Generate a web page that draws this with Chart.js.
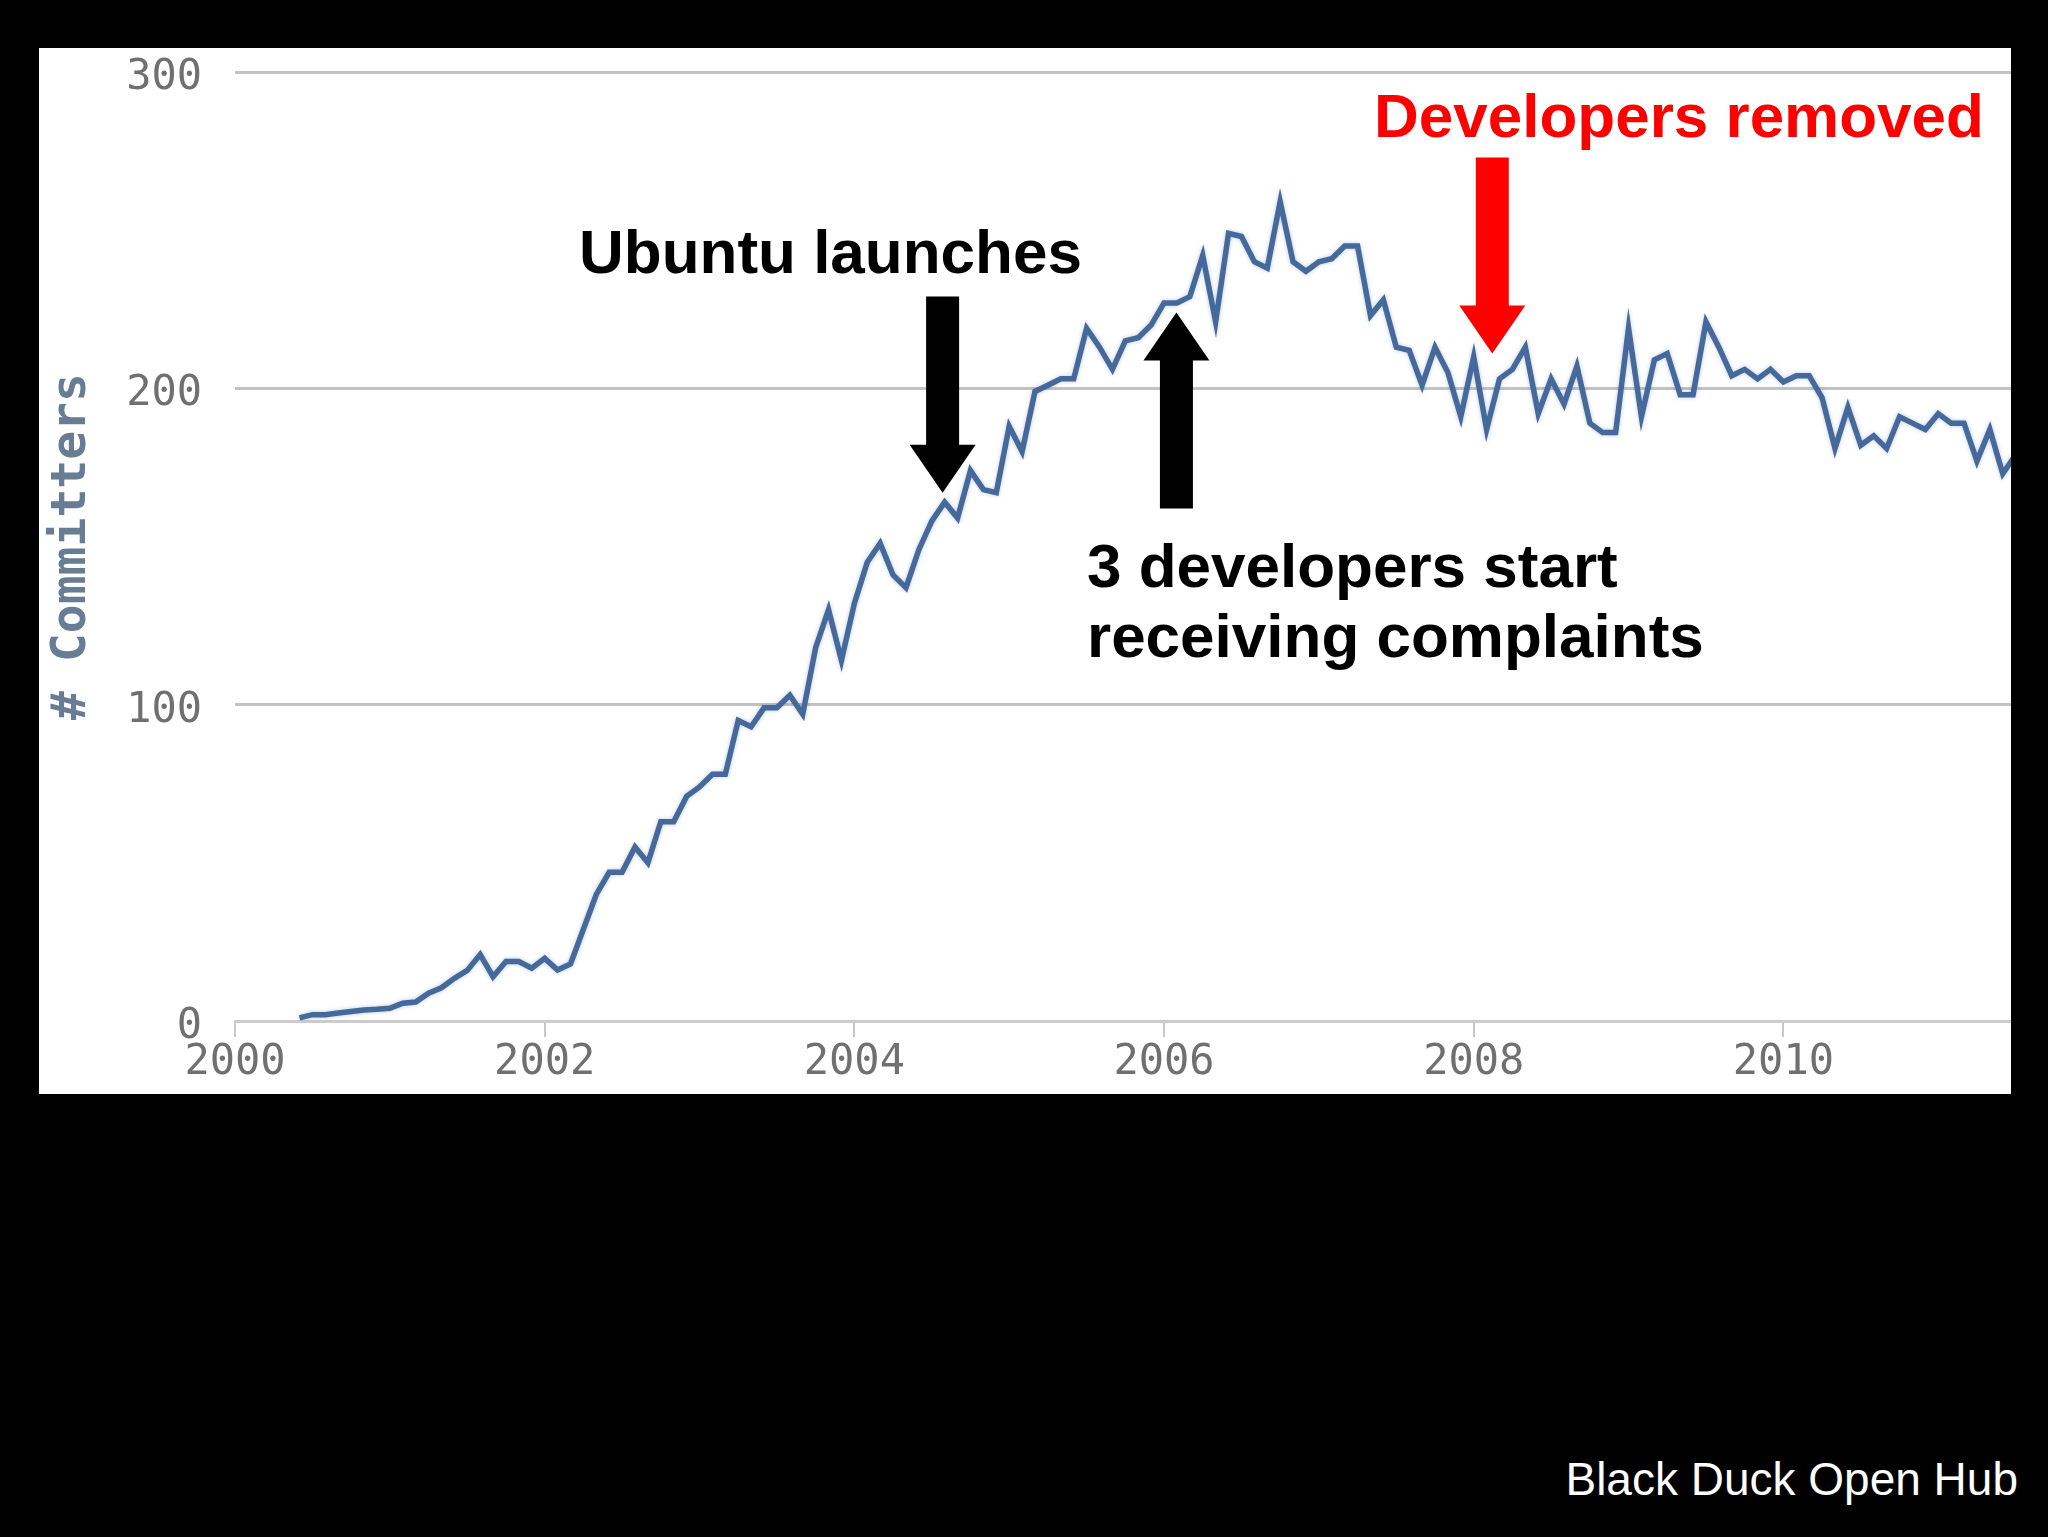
<!DOCTYPE html>
<html>
<head>
<meta charset="utf-8">
<title># Committers</title>
<script src="https://cdn.jsdelivr.net/npm/chart.js@4.4.1/dist/chart.umd.min.js"></script>
<style>
  html, body {
    margin: 0;
    padding: 0;
    background: #000;
  }

  body {
    width: 2048px;
    height: 1537px;
    position: relative;
    overflow: hidden;
    font-family: "Liberation Sans", Arial, sans-serif;
  }

  #panel {
    position: absolute;
    left: 39px;
    top: 48px;
    width: 1972px;
    height: 1046px;
    background: #fff;
  }

  #chart {
    display: block;
  }

  .note {
    position: absolute;
    font-weight: bold;
    font-size: 62px;
    line-height: 62px;
    white-space: nowrap;
    color: #000;
  }

  #source {
    position: absolute;
    right: 30px;
    top: 1456px;
    font-size: 46px;
    line-height: 46px;
    color: #fff;
    white-space: nowrap;
  }
</style>
</head>
<body>

<div id="panel">
  <canvas id="chart" width="1972" height="1046"></canvas>
</div>

<div class="note" style="left:579px; top:221px;">Ubuntu launches</div>
<div class="note" style="left:1087px; top:531px; line-height:70px;">3 developers start<br>receiving complaints</div>
<div class="note" style="left:1374px; top:85px; color:#ff0000;">Developers removed</div>
<div id="source">Black Duck Open Hub</div>

<script>

// monthly committer counts, first month = June 2000
const startYear = 2000;
const startMonth = 6;

const committers = [
  1, 2, 2, 2.5, 3, 3.5, 3.7, 4, 5.6, 6,
  8.8, 10.5, 13.5, 16, 21, 14, 18.8, 18.8, 16.7, 19.8,
  16.1, 18, 29, 40, 47, 47, 55, 50, 63, 63,
  71, 74, 78, 78, 95, 93, 99, 99, 103, 97,
  118, 130, 114, 132, 145, 151, 141, 137, 149, 158,
  164, 159, 174, 168, 167, 188, 180, 199, 201, 203,
  203, 219, 213, 206, 215, 216, 220, 227, 227, 229,
  242, 221, 249, 248, 240, 238, 259, 240, 237, 240,
  241, 245, 245, 223, 228, 213, 212, 201, 213, 205,
  191, 210, 187, 203, 206, 213, 192, 203, 195, 207,
  189, 186, 186, 219, 191, 209, 211, 198, 198, 221,
  213, 204, 206, 203, 206, 202, 204, 204, 197, 181,
  194, 182, 185, 181, 191, 189, 187, 192, 189, 189,
  177, 187, 173, 179
];

const xTicks = [2000, 2002, 2004, 2006, 2008, 2010];
const yTicks = [0, 100, 200, 300];

// annotation arrows in data units: year, tail value, tip value
const arrowYears = [2004.57, 2006.08, 2008.12];
const arrowTails = [229, 162, 273];
const arrowTips = [167, 224, 211];
const arrowColors = ["#000000", "#000000", "#ff0000"];

const points =
  committers.map((value, i) => ({
    x: startYear + (startMonth - 1 + i) / 12,
    y: value
  }));

const arrowPlugin = {

  id: "arrows",

  beforeDatasetsDraw(chart) {
    const ctx = chart.ctx;
    ctx.save();
    ctx.shadowColor = "rgba(70,104,154,0.35)";
    ctx.shadowBlur = 4;
  },

  afterDatasetsDraw(chart) {

    const ctx = chart.ctx;
    ctx.restore();

    const xScale = chart.scales.x;
    const yScale = chart.scales.y;

    const shaft = 33;
    const head = 66;
    const headLength = 48;

    arrowYears.forEach((year, i) => {

      const x = xScale.getPixelForValue(year);
      const yTail = yScale.getPixelForValue(arrowTails[i]);
      const yTip = yScale.getPixelForValue(arrowTips[i]);
      const dir = yTip > yTail ? 1 : -1;
      const yBase = yTip - dir * headLength;

      ctx.save();
      ctx.fillStyle = arrowColors[i];
      ctx.beginPath();
      ctx.moveTo(x - shaft / 2, yTail);
      ctx.lineTo(x + shaft / 2, yTail);
      ctx.lineTo(x + shaft / 2, yBase);
      ctx.lineTo(x + head / 2, yBase);
      ctx.lineTo(x, yTip);
      ctx.lineTo(x - head / 2, yBase);
      ctx.lineTo(x - shaft / 2, yBase);
      ctx.closePath();
      ctx.fill();
      ctx.restore();
    });
  }
};

const tickFont = {
  family: "'DejaVu Sans Mono', monospace",
  size: 42,
  lineHeight: 1
};

new Chart(document.getElementById("chart"), {

  type: "line",

  data: {
    datasets: [{
      label: "# Committers",
      data: points,
      borderColor: "#46699b",
      borderWidth: 5.5,
      pointRadius: 0,
      tension: 0,
      fill: false
    }]
  },

  options: {

    responsive: false,
    devicePixelRatio: 1,
    animation: false,

    layout: {
      padding: { top: 24, left: 0, right: 0, bottom: 0 }
    },

    plugins: {
      legend: { display: false },
      tooltip: { enabled: false }
    },

    scales: {

      x: {
        type: "linear",
        min: 2000,
        max: 2011.47,
        afterBuildTicks: scale => {
          scale.ticks = xTicks.map(v => ({ value: v }));
        },
        afterFit: scale => {
          scale.height = 73;
          scale.paddingLeft = 0;
          scale.paddingRight = 0;
        },
        ticks: {
          includeBounds: false,
          autoSkip: false,
          maxRotation: 0,
          padding: 5,
          color: "#707070",
          font: tickFont,
          callback: value => String(value)
        },
        grid: {
          drawOnChartArea: false,
          drawTicks: true,
          tickLength: 16,
          color: "#c8c8c8",
          lineWidth: 2
        },
        border: {
          display: true,
          color: "#cccccc",
          width: 3
        }
      },

      y: {
        min: 0,
        max: 300,
        afterBuildTicks: scale => {
          scale.ticks = yTicks.map(v => ({ value: v }));
        },
        afterFit: scale => {
          scale.width = 196;
          scale.paddingTop = 0;
          scale.paddingBottom = 0;
        },
        ticks: {
          padding: 33,
          labelOffset: 6,
          color: "#707070",
          font: tickFont
        },
        grid: {
          drawTicks: false,
          color: "#c2c2c2",
          lineWidth: 3
        },
        border: {
          display: false
        },
        title: {
          display: true,
          text: "# Committers",
          color: "#687c93",
          padding: { top: 5, bottom: 0 },
          font: {
            family: "'DejaVu Sans Mono', monospace",
            size: 48,
            weight: "bold",
            lineHeight: 1.2
          }
        }
      }
    }
  },

  plugins: [arrowPlugin]
});

</script>
</body>
</html>
